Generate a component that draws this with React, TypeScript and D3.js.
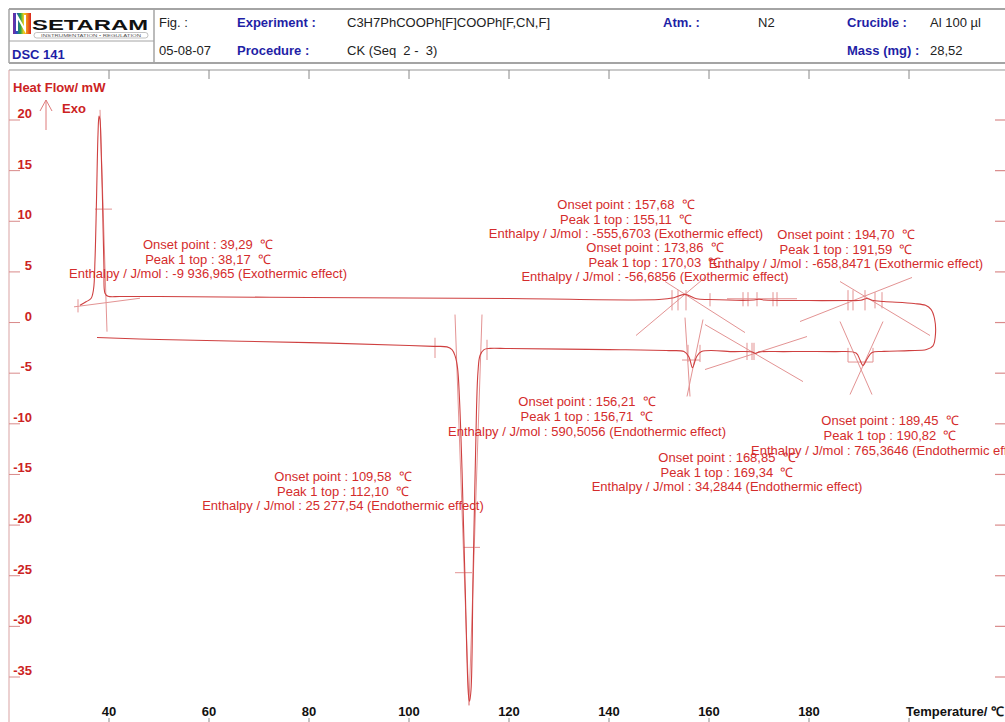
import React from 'react';
import * as d3 from 'd3';

const W = 1005;
const H = 722;

// Axis ticks
const tempTicks = [40, 60, 80, 100, 120, 140, 160, 180, 200];
const tempTickLabels = ['40', '60', '80', '100', '120', '140', '160', '180', 'Temperature/ ℃'];
const heatFlowTicks = [20, 15, 10, 5, 0, -5, -10, -15, -20, -25, -30, -35];

// Heating run (lower trace): [temperature °C, heat flow mW]
const heatingRun: [number, number][] = [
  [37.6, -1.48], [50, -1.68], [80, -1.98], [100, -2.27], [105, -2.35],
  [107.6, -2.4], [108.6, -2.67], [109.2, -3.26], [109.7, -4.45], [110.1, -7.6],
  [110.6, -14.5], [111.2, -25.4], [111.9, -36.8], [112.1, -37.4], [112.4, -36.3],
  [112.8, -25.4], [113.2, -15.5], [113.5, -8.6], [113.8, -4.84], [114.2, -3.26],
  [115, -2.67], [116.2, -2.55], [120, -2.57], [140, -2.67], [152, -2.77],
  [155, -2.87], [156, -3.4], [156.7, -4.45], [157.5, -3.4], [158.5, -2.87],
  [165, -2.87], [168.6, -2.9], [169.3, -3.05], [170.1, -2.9], [175, -2.87],
  [185, -2.87], [189.4, -3.0], [190.2, -3.7], [190.8, -4.25], [191.6, -3.6],
  [192.6, -2.95], [195, -2.85], [200, -2.77], [203.5, -2.67],
];

// Isothermal turnaround at the top temperature
const turnaround: [number, number][] = [
  [204.8, -2.3], [205.3, -1.1], [205.1, 0.4], [204.4, 1.3], [203.3, 1.7],
];

// Cooling run (upper trace), from hot to cold
const coolingRun: [number, number][] = [
  [201, 1.88], [195, 2.08], [192.6, 2.2], [191.6, 2.37], [190.4, 2.2],
  [188, 2.17], [180, 2.17], [171, 2.22], [170, 2.3], [169, 2.22],
  [160, 2.27], [157.5, 2.35], [155.1, 2.78], [153, 2.45], [150, 2.27],
  [120, 2.37], [80, 2.47], [50, 2.57], [42.2, 2.57], [39.8, 2.6],
  [39.2, 2.9], [39.0, 5.2], [38.7, 12.1], [38.4, 17.6], [38.2, 20.0],
  [38.0, 20.4], [37.8, 18.6], [37.5, 12.1], [37.2, 6.2], [36.9, 3.26],
  [36.4, 2.37], [35.4, 2.05], [34.2, 1.7],
];

// Tangent / construction lines: [T1, mW1, T2, mW2]
const constructionLines: [number, number, number, number][] = [
  [38.2, 21.0, 39.6, -0.9],
  [33.0, 1.55, 46.2, 2.4],
  [109.2, 0.79, 112.0, -37.8],
  [114.6, 0.79, 112.0, -37.8],
  [145.4, -1.28, 159.2, 4.45],
  [151.2, 4.05, 167.2, -0.99],
  [163.6, 2.35, 177.6, 2.35],
  [178.2, 0.1, 200.6, 4.45],
  [186.2, 4.05, 204.2, -1.28],
  [155.2, 0.49, 156.2, -7.3],
  [158.8, 0.3, 155.6, -7.3],
  [159.2, -0.2, 178.8, -5.83],
  [159.2, -4.64, 179.6, -1.38],
  [186.2, 0.1, 192.6, -7.11],
  [194.8, 0.1, 188.2, -7.11],
];

// Integration limits and half-height marks: [T1, mW1, T2, mW2]
const markerSegments: [number, number, number, number][] = [
  [33.8, 2.3, 33.8, 1.0],
  [37.2, 11.2, 40.6, 11.2],
  [105.2, -1.5, 105.2, -3.5],
  [115.6, -1.7, 115.6, -3.7],
  [110.8, -22.2, 114.2, -22.2],
  [109.2, -24.7, 112.6, -24.7],
  [152.6, 3.2, 152.6, 1.2],
  [153.8, 3.2, 153.8, 1.2],
  [155.4, 3.2, 155.4, 1.2],
  [160.2, 2.9, 160.2, 1.6],
  [166.8, 3.0, 166.8, 1.6],
  [167.8, 3.0, 167.8, 1.6],
  [169.6, 3.0, 169.6, 1.6],
  [172.8, 3.0, 172.8, 1.6],
  [173.6, 3.0, 173.6, 1.6],
  [187.8, 3.2, 187.8, 1.2],
  [188.8, 3.2, 188.8, 1.2],
  [191.2, 3.2, 191.2, 1.2],
  [193.2, 3.0, 193.2, 1.4],
  [194.6, 3.0, 194.6, 1.4],
  [155.8, -2.2, 155.8, -3.9],
  [158.2, -2.2, 158.2, -3.9],
  [154.6, -3.7, 158.2, -3.7],
  [167.6, -2.0, 167.6, -3.7],
  [168.6, -2.0, 168.6, -3.7],
  [169.0, -2.0, 169.0, -3.7],
  [187.8, -2.5, 187.8, -3.9],
  [192.8, -2.5, 192.8, -3.9],
  [187.8, -3.9, 192.8, -3.9],
];

// Peak evaluation labels, anchored at the first line's centre
const annotationAnchorsT = [59.8, 143.4, 149.2, 187.4, 135.6, 196.2, 163.6, 86.8];
const annotationAnchorsHF = [7.26, 11.22, 6.97, 8.26, -8.28, -10.16, -13.76, -15.64];
const annotationTexts = [
  ['Onset point : 39,29  ℃', 'Peak 1 top : 38,17  ℃', 'Enthalpy / J/mol : -9 936,965 (Exothermic effect)'],
  ['Onset point : 157,68  ℃', 'Peak 1 top : 155,11  ℃', 'Enthalpy / J/mol : -555,6703 (Exothermic effect)'],
  ['Onset point : 173,86  ℃', 'Peak 1 top : 170,03  ℃', 'Enthalpy / J/mol : -56,6856 (Exothermic effect)'],
  ['Onset point : 194,70  ℃', 'Peak 1 top : 191,59  ℃', 'Enthalpy / J/mol : -658,8471 (Exothermic effect)'],
  ['Onset point : 156,21  ℃', 'Peak 1 top : 156,71  ℃', 'Enthalpy / J/mol : 590,5056 (Endothermic effect)'],
  ['Onset point : 189,45  ℃', 'Peak 1 top : 190,82  ℃', 'Enthalpy / J/mol : 765,3646 (Endothermic effect)'],
  ['Onset point : 168,85  ℃', 'Peak 1 top : 169,34  ℃', 'Enthalpy / J/mol : 34,2844 (Endothermic effect)'],
  ['Onset point : 109,58  ℃', 'Peak 1 top : 112,10  ℃', 'Enthalpy / J/mol : 25 277,54 (Endothermic effect)'],
];

const FONT = '"Liberation Sans", Arial, Helvetica, sans-serif';
const RED_TEXT = '#d42c2c';
const RED_AXIS = '#cc2323';
const CURVE = '#cf4040';
const CONSTRUCT = '#e39393';
const BLUE = '#1f1fa6';
const GRAY = '#a4a4a4';

export default function App() {
  const x = d3.scaleLinear().domain([40, 200]).range([109, 909]);
  const y = d3.scaleLinear().domain([-35, 20]).range([677, 120]);

  const line = d3
    .line<[number, number]>()
    .x((d) => x(d[0]))
    .y((d) => y(d[1]))
    .curve(d3.curveCatmullRom.alpha(0.5));

  const trace = [...heatingRun, ...turnaround, ...coolingRun];
  const lineGap = 14.7;

  return (
    <svg
      width={W}
      height={H}
      viewBox={`0 0 ${W} ${H}`}
      style={{ position: 'absolute', left: 0, top: 0, background: '#fff', fontFamily: FONT }}
    >
      <defs>
        <linearGradient id="logoRainbow" x1="0" x2="1" y1="0" y2="0">
          <stop offset="0" stopColor="#7b2a9a" />
          <stop offset="0.2" stopColor="#2d49c8" />
          <stop offset="0.4" stopColor="#1fa04a" />
          <stop offset="0.6" stopColor="#f2d21c" />
          <stop offset="0.8" stopColor="#f07a1a" />
          <stop offset="1" stopColor="#d8231e" />
        </linearGradient>
        <clipPath id="plotClip">
          <rect x={9} y={71} width={W - 9} height={H - 71} />
        </clipPath>
      </defs>

      {/* Header block */}
      <g>
        <line x1={9} x2={W} y1={9} y2={9} stroke={GRAY} strokeWidth={2} />
        <line x1={9} x2={W} y1={63} y2={63} stroke={GRAY} strokeWidth={2} />
        <line x1={9} x2={9} y1={9} y2={63} stroke={GRAY} strokeWidth={1.5} />
        <line x1={154} x2={154} y1={9} y2={63} stroke={GRAY} strokeWidth={1.5} />
        <line x1={9} x2={154} y1={41} y2={41} stroke={GRAY} strokeWidth={1} />

        <rect x={13} y={13} width={18} height={21} fill="url(#logoRainbow)" />
        <polyline points="17,31 17,16 25,30 25,15" fill="none" stroke="#fff" strokeWidth={2} />
        <text x={32} y={30} fontSize={14} fontWeight="bold" fill="#111" textLength={116} lengthAdjust="spacingAndGlyphs">
          SETARAM
        </text>
        <rect x={34} y={32.5} width={114} height={5.5} rx={2.7} fill="#fff" stroke="#999" strokeWidth={0.6} />
        <text x={91} y={37} fontSize={4.2} textAnchor="middle" fill="#555" textLength={100} lengthAdjust="spacingAndGlyphs">
          INSTRUMENTATION • REGULATION
        </text>
        <text x={12} y={59} fontSize={13} fontWeight="bold" fill={BLUE}>DSC 141</text>

        <text x={159} y={27} fontSize={13} fill="#222">Fig. :</text>
        <text x={159} y={55} fontSize={13} fill="#222">05-08-07</text>
        <text x={237} y={27} fontSize={13} fontWeight="bold" fill={BLUE}>Experiment :</text>
        <text x={237} y={55} fontSize={13} fontWeight="bold" fill={BLUE}>Procedure :</text>
        <text x={347} y={27} fontSize={13} fill="#222">C3H7PhCOOPh[F]COOPh[F,CN,F]</text>
        <text x={347} y={55} fontSize={13} fill="#222" style={{ whiteSpace: 'pre' }}>CK (Seq  2 -  3)</text>
        <text x={663} y={27} fontSize={13} fontWeight="bold" fill={BLUE}>Atm. :</text>
        <text x={758} y={27} fontSize={13} fill="#222">N2</text>
        <text x={847} y={27} fontSize={13} fontWeight="bold" fill={BLUE}>Crucible :</text>
        <text x={847} y={55} fontSize={13} fontWeight="bold" fill={BLUE}>Mass (mg) :</text>
        <text x={930} y={27} fontSize={13} fill="#222">Al 100 µl</text>
        <text x={930} y={55} fontSize={13} fill="#222">28,52</text>
      </g>

      {/* Plot frame */}
      <line x1={9} x2={W} y1={70} y2={70} stroke="#b8b8b8" strokeWidth={1.5} />
      <line x1={9} x2={9} y1={70} y2={H} stroke="#d9a3a3" strokeWidth={1} />

      {/* Top temperature ticks */}
      {tempTicks.map((t) => (
        <line key={`tt${t}`} x1={x(t)} x2={x(t)} y1={70} y2={79} stroke="#888" strokeWidth={1} />
      ))}

      {/* Bottom temperature ticks and labels */}
      {tempTicks.map((t, i) => (
        <g key={`bt${t}`}>
          <line x1={x(t)} x2={x(t)} y1={718} y2={H} stroke="#888" strokeWidth={1} />
          <text
            x={i === tempTicks.length - 1 ? x(t) - 3 : x(t)}
            y={716}
            fontSize={13}
            fontWeight="bold"
            fill="#111"
            textAnchor={i === tempTicks.length - 1 ? 'start' : 'middle'}
          >
            {tempTickLabels[i]}
          </text>
        </g>
      ))}

      {/* Heat flow ticks, left and right */}
      {heatFlowTicks.map((v) => (
        <g key={`hf${v}`}>
          <line x1={9} x2={20} y1={y(v)} y2={y(v)} stroke="#d98a8a" strokeWidth={1} />
          <text x={32} y={y(v) - 2} fontSize={13} fontWeight="bold" fill={RED_AXIS} textAnchor="end">
            {v}
          </text>
          <line x1={995} x2={W} y1={y(v)} y2={y(v)} stroke="#d98a8a" strokeWidth={1.2} />
        </g>
      ))}

      {/* Axis title and exo arrow */}
      <text x={13} y={92} fontSize={13} fontWeight="bold" fill={RED_AXIS}>Heat Flow/ mW</text>
      <text x={62} y={113} fontSize={13} fontWeight="bold" fill={RED_AXIS}>Exo</text>
      <line x1={46} x2={46} y1={100} y2={130} stroke="#de7a7a" strokeWidth={1} />
      <polyline points="40,111 46,100 52,111" fill="none" stroke="#de7a7a" strokeWidth={1} />

      <g clipPath="url(#plotClip)">
        {/* Construction lines */}
        {constructionLines.map((s, i) => (
          <line
            key={`cl${i}`}
            x1={x(s[0])}
            y1={y(s[1])}
            x2={x(s[2])}
            y2={y(s[3])}
            stroke={CONSTRUCT}
            strokeWidth={1}
          />
        ))}
        {markerSegments.map((s, i) => (
          <line
            key={`mk${i}`}
            x1={x(s[0])}
            y1={y(s[1])}
            x2={x(s[2])}
            y2={y(s[3])}
            stroke={CONSTRUCT}
            strokeWidth={1}
          />
        ))}

        {/* DSC trace */}
        <path d={line(trace) ?? ''} fill="none" stroke={CURVE} strokeWidth={1.1} />

        {/* Peak evaluation labels */}
        {annotationTexts.map((lines, i) => (
          <text
            key={`an${i}`}
            x={x(annotationAnchorsT[i])}
            y={y(annotationAnchorsHF[i])}
            fontSize={13}
            fill={RED_TEXT}
            textAnchor="middle"
            style={{ whiteSpace: 'pre' }}
          >
            {lines.map((l, j) => (
              <tspan key={j} x={x(annotationAnchorsT[i])} dy={j === 0 ? 0 : lineGap}>
                {l}
              </tspan>
            ))}
          </text>
        ))}
      </g>
    </svg>
  );
}
